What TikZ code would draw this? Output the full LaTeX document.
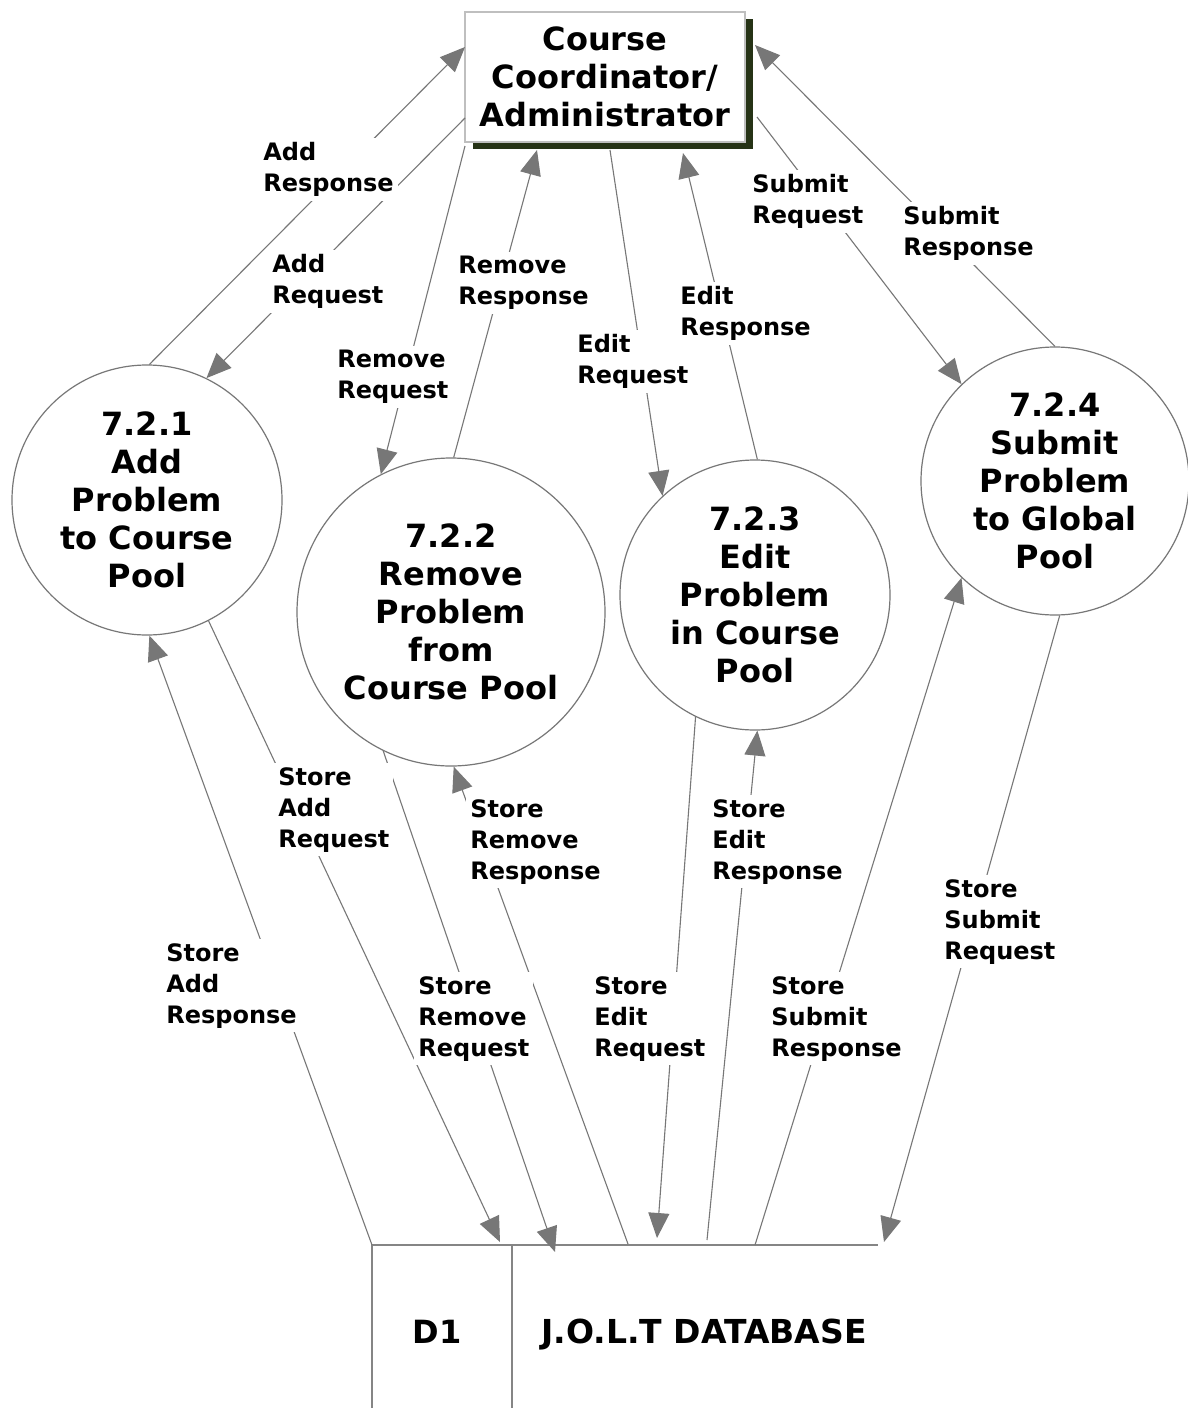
\documentclass[tikz,border=0pt]{standalone}
\usepackage{fontspec}
\setmainfont{DejaVu Sans}
\usetikzlibrary{arrows.meta, shadows}
\definecolor{flowgray}{HTML}{777777}
\definecolor{shadowgreen}{HTML}{263316}

\begin{document}
\begin{tikzpicture}[x=0.5pt, y=-0.5pt,
  bigtext/.style={font=\bfseries\fontsize{16}{19}\selectfont, align=center},
  proc/.style={circle, draw=flowgray, line width=0.6pt, minimum size=#1, inner sep=0pt, bigtext},
  entity/.style={draw=black!25, line width=1pt, fill=white, minimum width=140pt, minimum height=65pt,
    inner sep=0pt, bigtext, drop shadow={shadow xshift=4pt, shadow yshift=-3.5pt, fill=shadowgreen, opacity=1}},
  flow/.style={draw=flowgray, line width=0.55pt, -{Triangle[length=12.5pt, width=10.5pt]}, flowgray},
  lbl/.style={font=\bfseries\fontsize{12}{15.5}\selectfont, align=left, fill=white, inner sep=2pt, anchor=north west},
  store/.style={draw=flowgray!90, line width=1.2pt}
]
\useasboundingbox[fill=white] (0,0) rectangle (1188,1408);

% External entity
\node[entity] (admin) at (605,77) {Course\\Coordinator/\\Administrator};

% Processes
\node[proc=135pt] (c1) at (147,500) {7.2.1\\Add\\Problem\\to Course\\Pool};
\node[proc=154pt] (c2) at (451,612) {7.2.2\\Remove\\Problem\\from\\Course Pool};
\node[proc=135pt] (c3) at (755,595) {7.2.3\\Edit\\Problem\\in Course\\Pool};
\node[proc=134pt] (c4) at (1055,481) {7.2.4\\Submit\\Problem\\to Global\\Pool};

% Data store
\draw[store] (372,1408) -- (372,1245) -- (878,1245);
\draw[store] (512,1245) -- (512,1408);
\node[bigtext, anchor=base] (d1) at (437,1343) {D1};
\node[bigtext, anchor=base, font=\bfseries\fontsize{16.5}{19}\selectfont] (dbname) at (704,1343) {J.O.L.T DATABASE};

% Ports on the entity and the store
\coordinate (adminW1) at (465,47);
\coordinate (adminW2) at (465,118);
\coordinate (adminS1) at (465,146);
\coordinate (adminS2) at (537,150);
\coordinate (adminS3) at (610,150);
\coordinate (adminS4) at (683,153);
\coordinate (adminE1) at (757,117);
\coordinate (adminE2) at (755,45);
\coordinate (dbA) at (372,1245);
\coordinate (dbB) at (500,1242);
\coordinate (dbC) at (555,1252);
\coordinate (dbD) at (628,1244);
\coordinate (dbE) at (657,1238);
\coordinate (dbF) at (707,1240);
\coordinate (dbG) at (755,1245);
\coordinate (dbH) at (884,1242);

% Flows to and from the coordinator
\draw[flow] (c1.89) -- (adminW1);
\draw[flow] (adminW2) -- (c1.64);
\draw[flow] (adminS1) -- (c2.117);
\draw[flow] (c2.89) -- (adminS2);
\draw[flow] (adminS3) -- (c3.133);
\draw[flow] (c3.89) -- (adminS4);
\draw[flow] (adminE1) -- (c4.134);
\draw[flow] (c4.90) -- (adminE2);

% Flows to and from the database
\draw[flow] (dbA) -- (c1.-89);
\draw[flow] (c1.-63) -- (dbB);
\draw[flow] (c2.-116) -- (dbC);
\draw[flow] (dbD) -- (c2.-89);
\draw[flow] (c3.-116) -- (dbE);
\draw[flow] (dbF) -- (c3.-89);
\draw[flow] (dbG) -- (c4.-134);
\draw[flow] (c4.-88) -- (dbH);

% Flow labels
\node[lbl] (lAddResp) at (259,138) {Add\\Response};
\node[lbl] (lAddReq) at (268,250) {Add\\Request};
\node[lbl] (lRemReq) at (333,346) {Remove\\Request};
\node[lbl] (lRemResp) at (454,252) {Remove\\Response};
\node[lbl] (lEditReq) at (573,330) {Edit\\Request};
\node[lbl] (lEditResp) at (676,282) {Edit\\Response};
\node[lbl] (lSubReq) at (748,170) {Submit\\Request};
\node[lbl] (lSubResp) at (899,202) {Submit\\Response};
\node[lbl] (lStAddResp) at (162,939) {Store\\Add\\Response};
\node[lbl] (lStAddReq) at (274,763) {Store\\Add\\Request};
\node[lbl] (lStRemReq) at (414,972) {Store\\Remove\\Request};
\node[lbl] (lStRemResp) at (466,795) {Store\\Remove\\Response};
\node[lbl] (lStEditReq) at (590,972) {Store\\Edit\\Request};
\node[lbl] (lStEditResp) at (708,795) {Store\\Edit\\Response};
\node[lbl] (lStSubResp) at (767,972) {Store\\Submit\\Response};
\node[lbl] (lStSubReq) at (940,875) {Store\\Submit\\Request};

\end{tikzpicture}
\end{document}
